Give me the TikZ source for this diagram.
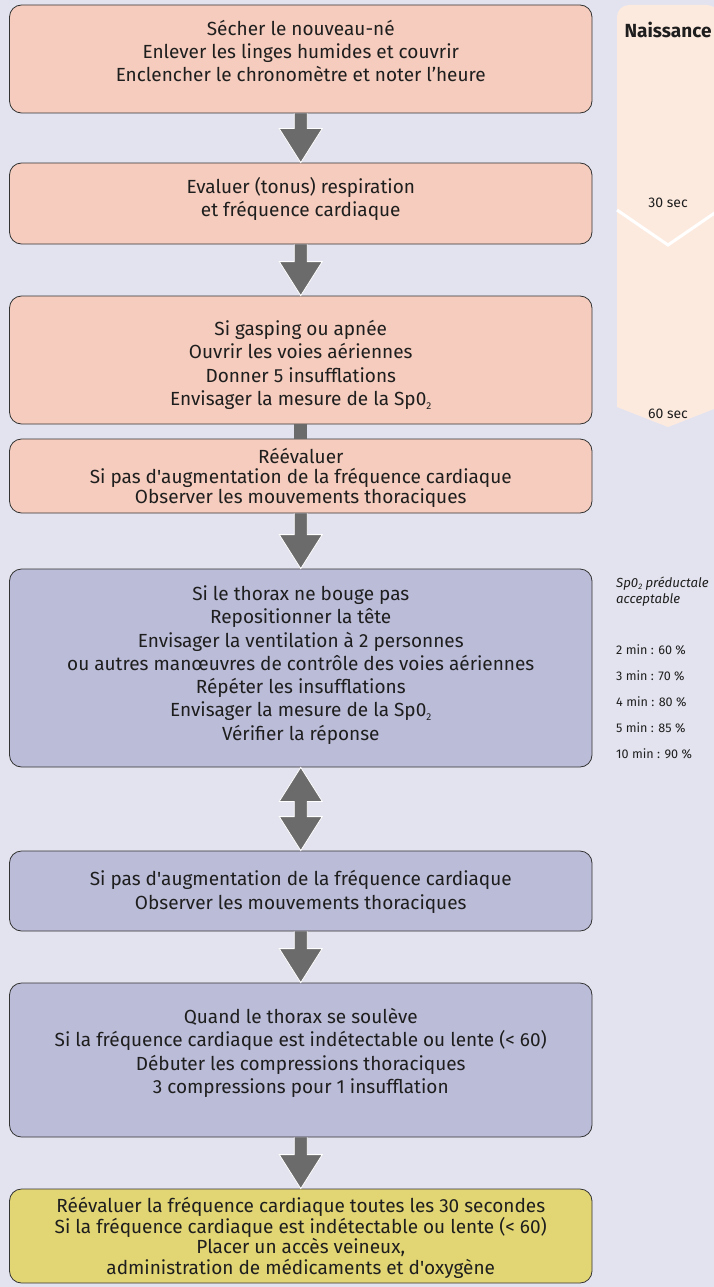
\documentclass[tikz,border=0pt]{standalone}
\usepackage{fontspec}
\setmainfont{Fira Sans}
\usetikzlibrary{calc}
\definecolor{bg}{HTML}{E3E3EF}
\definecolor{salmon}{HTML}{F5CCBD}
\definecolor{lav}{HTML}{BBBCD8}
\definecolor{yel}{HTML}{E2D574}
\definecolor{panel}{HTML}{FDEADF}
\definecolor{arrgray}{HTML}{6B6B6B}
\definecolor{txtc}{HTML}{1E1E1E}
\newcommand\spo{Sp0\raisebox{-0.4ex}{\fontsize{10}{10}\selectfont 2}}
\newcommand\spoi{Sp0\raisebox{-0.4ex}{\fontsize{8}{8}\selectfont 2}}
\newcommand\sq{\textquotesingle}
\tikzset{
  box/.style={draw=black!80, line width=0.8pt, rounded corners=12pt, inner sep=0pt, minimum width=582.5pt},
  txt/.style={align=center, font=\fontsize{19}{23.3}\selectfont, text=txtc, inner sep=0pt},
  side/.style={font=\fontsize{12.6}{14}\selectfont, text=txtc, inner sep=0pt},
  arr/.style={fill=arrgray, draw=white, line width=0.8pt},
}
\newcommand\darr[2]{\draw[arr] let \p1=(#1.south), \p2=(#2.north) in
  (\x1-6.5pt,\y1) -- (\x1-6.5pt,\y2+34pt) -- (\x1-21.5pt,\y2+34pt) -- (\x1,\y2)
  -- (\x1+21.5pt,\y2+34pt) -- (\x1+6.5pt,\y2+34pt) -- (\x1+6.5pt,\y1);}
\begin{document}
\begin{tikzpicture}[x=1pt,y=-1pt]
\useasboundingbox (0,0) rectangle (714,1287);
\fill[bg] (0,0) rectangle (714,1287);
% side panel
\begin{scope}
\clip (0,0) rectangle (714,1287);
\fill[panel] (617,407) [rounded corners=12pt] -- (617,5) -- (719,5) -- (719,30) [sharp corners] -- (719,407) -- (668,427) -- cycle;
\draw[white, line width=3pt] (617,210) -- (668,245) -- (719,210);
\end{scope}
\node[font=\bfseries\fontsize{19}{20}\selectfont, text=txtc, inner sep=0pt, anchor=base] (naiss) at (668,38) {Naissance};
\node[side, font=\fontsize{14}{14}\selectfont, anchor=base] (s30) at (668,207) {30 sec};
\node[side, font=\fontsize{14}{14}\selectfont, anchor=base] (s60) at (668,418) {60 sec};
\node[side, anchor=base west, font=\itshape\fontsize{13.2}{16.7}\selectfont] (spot) at (616,587) {\spoi{} préductale};
\node[side, anchor=base west, font=\itshape\fontsize{13.2}{16.7}\selectfont] (spot2) at (616,603) {acceptable};
\node[side, anchor=base west] (m2) at (616,654) {2 min : 60 \%};
\node[side, anchor=base west] (m3) at (616,680) {3 min : 70 \%};
\node[side, anchor=base west] (m4) at (616,706) {4 min : 80 \%};
\node[side, anchor=base west] (m5) at (616,732) {5 min : 85 \%};
\node[side, anchor=base west] (m10) at (616,758) {10 min : 90 \%};
% boxes
\node[box, fill=salmon, minimum height=108pt] (b1) at (300.75,59) {};
\node[box, fill=salmon, minimum height=81pt] (b2) at (300.75,203.5) {};
\node[box, fill=salmon, minimum height=128pt] (b3) at (300.75,360) {};
\node[box, fill=salmon, minimum height=74pt] (b4) at (300.75,476) {};
\node[box, fill=lav, minimum height=198pt] (b5) at (300.75,668) {};
\node[box, fill=lav, minimum height=80pt] (b6) at (300.75,891) {};
\node[box, fill=lav, minimum height=154pt] (b7) at (300.75,1060) {};
\node[box, fill=yel, minimum height=94pt] (b8) at (300.75,1236) {};
% texts
\node[txt] (t1) at (300.75,51) {Sécher le nouveau-né\\Enlever les linges humides et couvrir\\Enclencher le chronomètre et noter l’heure};
\node[txt] (t2) at (300.75,199) {Evaluer (tonus) respiration\\et fréquence cardiaque};
\node[txt] (t3) at (300.75,365) {Si gasping ou apnée\\Ouvrir les voies aériennes\\Donner 5 insufflations\\Envisager la mesure de la \spo};
\node[txt, font=\fontsize{19}{20}\selectfont] (t4) at (300.75,478) {Réévaluer\\Si pas d\sq augmentation de la fréquence cardiaque\\Observer les mouvements thoraciques};
\node[txt] (t5) at (300.75,665) {Si le thorax ne bouge pas\\Repositionner la tête\\Envisager la ventilation à 2 personnes\\ou autres manœuvres de contrôle des voies aériennes\\Répéter les insufflations\\Envisager la mesure de la \spo\\Vérifier la réponse};
\node[txt] (t6) at (300.75,892) {Si pas d\sq augmentation de la fréquence cardiaque\\Observer les mouvements thoraciques};
\node[txt] (t7) at (300.75,1053) {Quand le thorax se soulève\\Si la fréquence cardiaque est indétectable ou lente (< 60)\\Débuter les compressions thoraciques\\3 compressions pour 1 insufflation};
\node[txt, font=\fontsize{19}{20.5}\selectfont] (t8) at (300.75,1238) {Réévaluer la fréquence cardiaque toutes les 30 secondes\\Si la fréquence cardiaque est indétectable ou lente (< 60)\\Placer un accès veineux,\\administration de médicaments et d\sq oxygène};
% arrows
\darr{b1}{b2}
\darr{b2}{b3}
\fill[arrgray] ($(b3.south)+(-6.5,0)$) rectangle ($(b4.north)+(6.5,0)$);
\darr{b4}{b5}
\draw[arr] let \p1=(b5.south), \p2=(b6.north) in
  (\x1,\y1) -- (\x1+21.5pt,\y1-34pt) -- (\x1+6.5pt,\y1-34pt) -- (\x1+6.5pt,\y2+34pt)
  -- (\x1+21.5pt,\y2+34pt) -- (\x1,\y2) -- (\x1-21.5pt,\y2+34pt) -- (\x1-6.5pt,\y2+34pt)
  -- (\x1-6.5pt,\y1-34pt) -- (\x1-21.5pt,\y1-34pt) -- cycle;
\darr{b6}{b7}
\darr{b7}{b8}
\end{tikzpicture}
\end{document}
